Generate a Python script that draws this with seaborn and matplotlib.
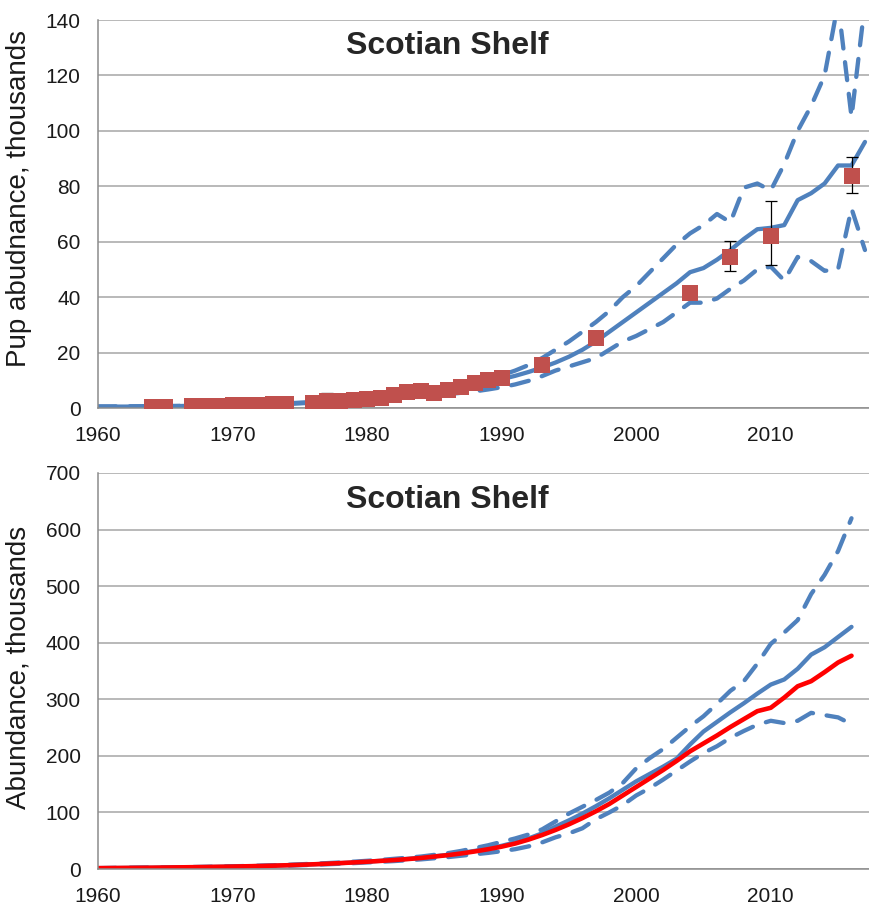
import matplotlib
matplotlib.use("Agg")
import matplotlib.pyplot as plt
import pandas as pd
import seaborn as sns

# ---------------- data: pup production (top panel) ----------------
pup_years = list(range(1960, 2018))
pup_model = [0.5, 0.5, 0.5, 0.55, 0.6, 0.65, 0.7, 0.8, 0.9, 1.0,
             1.1, 1.2, 1.3, 1.45, 1.6, 1.8, 2.0, 2.3, 2.6, 2.9,
             3.3, 3.7, 4.2, 4.7, 5.3, 5.9, 6.6, 7.4, 8.3, 9.3,
             10.4, 11.6, 13.0, 14.6, 16.4, 18.5, 21.0, 24.0, 27.5, 31.0,
             34.5, 38.0, 41.5, 45.0, 49.0, 50.5, 53.5, 57.0, 61.0, 64.5,
             65.0, 66.0, 75.0, 77.5, 81.0, 87.5, 87.5, 96.0]
pup_upper = [0.5, 0.5, 0.55, 0.6, 0.65, 0.7, 0.75, 0.85, 0.95, 1.05,
             1.15, 1.25, 1.4, 1.55, 1.7, 1.9, 2.1, 2.4, 2.7, 3.1,
             3.5, 3.9, 4.4, 5.0, 5.6, 6.3, 7.0, 7.9, 8.9, 10.2,
             11.8, 13.5, 15.5, 18.0, 21.0, 24.0, 27.5, 31.0, 35.0, 40.0,
             44.0, 49.0, 54.0, 59.0, 63.0, 66.0, 70.0, 67.0, 79.5, 81.0,
             78.5, 88.0, 100.0, 109.0, 120.0, 146.0, 105.0, 146.0]
pup_lower = [0.45, 0.45, 0.5, 0.5, 0.55, 0.6, 0.65, 0.75, 0.85, 0.95,
             1.05, 1.15, 1.2, 1.35, 1.5, 1.7, 1.9, 2.1, 2.4, 2.7,
             3.0, 3.3, 3.7, 4.0, 4.3, 4.6, 5.0, 5.5, 6.0, 6.7,
             7.5, 8.5, 9.8, 11.5, 13.5, 15.0, 16.5, 18.0, 21.0, 24.0,
             26.0, 28.5, 31.0, 34.5, 38.0, 38.0, 39.5, 43.0, 46.0, 50.0,
             51.0, 46.0, 54.5, 53.0, 49.5, 50.0, 72.0, 57.0]

# observed pup counts
obs_years = [1964, 1965, 1967, 1968, 1969, 1970, 1971, 1972, 1973, 1974,
             1976, 1977, 1978, 1979, 1980, 1981, 1982, 1983, 1984, 1985,
             1986, 1987, 1988, 1989, 1990, 1993, 1997, 2004, 2007, 2010, 2016]
obs_pups = [0.5, 0.5, 0.6, 0.8, 0.9, 1.0, 1.0, 1.1, 1.3, 1.4,
            1.9, 2.4, 2.7, 2.9, 3.2, 3.6, 4.7, 5.6, 6.0, 5.4,
            6.5, 7.7, 8.9, 10.1, 10.8, 15.5, 25.3, 41.5, 54.6, 62.0, 83.7]
err_years = [1977, 2007, 2010, 2016]
err_mid = [2.4, 54.6, 62.0, 83.7]
err_low = [1.0, 49.4, 51.6, 77.6]
err_high = [5.5, 60.3, 74.7, 90.6]

# ---------------- data: total abundance (bottom panel) ----------------
tot_years = list(range(1960, 2017))
tot_model = [1.5, 1.7, 1.9, 2.1, 2.3, 2.6, 2.9, 3.2, 3.5, 3.9,
             4.3, 4.8, 5.3, 5.9, 6.6, 7.4, 8.3, 9.3, 10.4, 11.6,
             13.0, 14.5, 16.0, 18.0, 20.0, 22.5, 25.0, 28.5, 32.0, 36.5,
             41.0, 47.0, 54.0, 63.0, 75.0, 86.0, 98.0, 111.0, 125.0, 140.0,
             155.0, 168.0, 181.0, 195.0, 220.0, 243.0, 260.0, 277.0, 293.0, 310.0,
             326.0, 335.0, 354.0, 379.0, 392.0, 410.0, 428.0]
tot_upper = [1.6, 1.8, 2.0, 2.3, 2.5, 2.8, 3.1, 3.5, 3.9, 4.3,
             4.8, 5.3, 5.9, 6.6, 7.4, 8.3, 9.3, 10.4, 11.6, 13.0,
             14.5, 16.0, 18.0, 20.0, 22.0, 25.0, 28.0, 32.0, 37.0, 42.0,
             48.0, 54.0, 61.0, 70.0, 84.0, 98.0, 110.0, 122.0, 135.0, 152.0,
             178.0, 196.0, 212.0, 232.0, 252.0, 270.0, 292.0, 315.0, 332.0, 363.0,
             398.0, 418.0, 440.0, 486.0, 520.0, 562.0, 620.0]
tot_lower = [1.4, 1.6, 1.8, 1.9, 2.1, 2.4, 2.6, 2.9, 3.2, 3.5,
             3.9, 4.3, 4.8, 5.3, 5.9, 6.6, 7.4, 8.3, 9.3, 10.4,
             11.6, 12.8, 14.0, 15.5, 17.0, 19.0, 21.0, 23.5, 26.0, 28.5,
             31.5, 35.0, 40.0, 47.0, 56.0, 63.0, 72.0, 88.0, 100.0, 113.0,
             130.0, 143.0, 158.0, 174.0, 190.0, 205.0, 217.0, 232.0, 244.0, 255.0,
             262.0, 258.0, 262.0, 276.0, 272.0, 268.0, 256.0]
tot_alt = [1.5, 1.7, 1.9, 2.1, 2.3, 2.6, 2.9, 3.2, 3.5, 3.9,
           4.3, 4.8, 5.3, 5.9, 6.6, 7.4, 8.3, 9.3, 10.4, 11.6,
           12.9, 14.3, 15.8, 17.5, 19.5, 22.0, 24.5, 27.5, 31.0, 35.0,
           39.5, 45.0, 52.0, 60.0, 69.0, 79.0, 90.0, 102.0, 115.0, 130.0,
           145.0, 160.0, 175.0, 191.0, 208.0, 222.0, 236.0, 251.0, 265.0, 279.0,
           285.0, 303.0, 323.0, 332.0, 348.0, 365.0, 377.0]

# ---------------- style ----------------
sns.set_style("white")
plt.rcParams["font.family"] = ["Liberation Sans", "DejaVu Sans"]

blue = "#4F81BD"
square_red = "#C0504D"
grid_gray = "#A6A6A6"
dash = (0, (4.2, 3.2))

fig = plt.figure(figsize=(8.69, 9.05), dpi=100)
ax1 = fig.add_axes([98 / 869, 1 - 408 / 905, 771 / 869, 388 / 905])
ax2 = fig.add_axes([98 / 869, 1 - 869 / 905, 771 / 869, 396 / 905])


def style_axis(ax, ymax, ystep, ylabel, label_y):
    ax.set_xlim(1960, 2017.3)
    ax.set_ylim(0, ymax)
    ax.set_xticks(range(1960, 2011, 10))
    ax.set_yticks(range(0, ymax + 1, ystep))
    ax.grid(axis="y", color=grid_gray, lw=1.1, zorder=0)
    ax.grid(axis="x", visible=False)
    for s in ["top", "right"]:
        ax.spines[s].set_visible(False)
    for s in ["left", "bottom"]:
        ax.spines[s].set_color("#8C8C8C")
        ax.spines[s].set_linewidth(1.1)
    ax.tick_params(axis="x", direction="out", length=5, width=1.1,
                   color="#8C8C8C", pad=8, labelsize=15, labelcolor="#1a1a1a")
    ax.tick_params(axis="y", direction="out", length=4.5, width=1.1,
                   color="#8C8C8C", pad=8, labelsize=15, labelcolor="#1a1a1a")
    ax.set_xlabel("")
    ax.set_ylabel(ylabel, fontsize=20, color="#1a1a1a")
    ax.yaxis.set_label_coords(-0.086, label_y)
    ax.text(0.453, 0.932, "Scotian Shelf", transform=ax.transAxes,
            ha="center", va="center", fontsize=23, fontweight="bold")
    ax.set_axisbelow(True)


# ---------------- top panel ----------------
pup_df = pd.DataFrame({"year": pup_years, "model": pup_model,
                       "upper": pup_upper, "lower": pup_lower})
for col in ["upper", "lower"]:
    sns.lineplot(data=pup_df, x="year", y=col, ax=ax1, color=blue, lw=3.1,
                 linestyle=dash, dash_capstyle="round", errorbar=None)
sns.lineplot(data=pup_df, x="year", y="model", ax=ax1, color=blue, lw=3.1,
             errorbar=None)
ax1.errorbar(err_years, err_mid,
             yerr=[[m - lo for m, lo in zip(err_mid, err_low)],
                   [hi - m for m, hi in zip(err_mid, err_high)]],
             fmt="none", ecolor="black", elinewidth=0.9, capsize=4.5,
             capthick=0.9, zorder=4)
sns.scatterplot(x=obs_years, y=obs_pups, ax=ax1, marker="s", s=140,
                color=square_red, edgecolor=square_red, linewidth=0, zorder=5)
style_axis(ax1, 140, 20, "Pup abudnance, thousands", 0.54)

# ---------------- bottom panel ----------------
tot_df = pd.DataFrame({"year": tot_years, "model": tot_model,
                       "upper": tot_upper, "lower": tot_lower, "alt": tot_alt})
for col in ["upper", "lower"]:
    sns.lineplot(data=tot_df, x="year", y=col, ax=ax2, color=blue, lw=3.1,
                 linestyle=dash, dash_capstyle="round", errorbar=None)
sns.lineplot(data=tot_df, x="year", y="model", ax=ax2, color=blue, lw=3.1,
             errorbar=None)
sns.lineplot(data=tot_df, x="year", y="alt", ax=ax2, color="#FF0000", lw=3.3,
             errorbar=None)
style_axis(ax2, 700, 100, "Abundance, thousands", 0.51)

fig.savefig("out.png", dpi=100)
